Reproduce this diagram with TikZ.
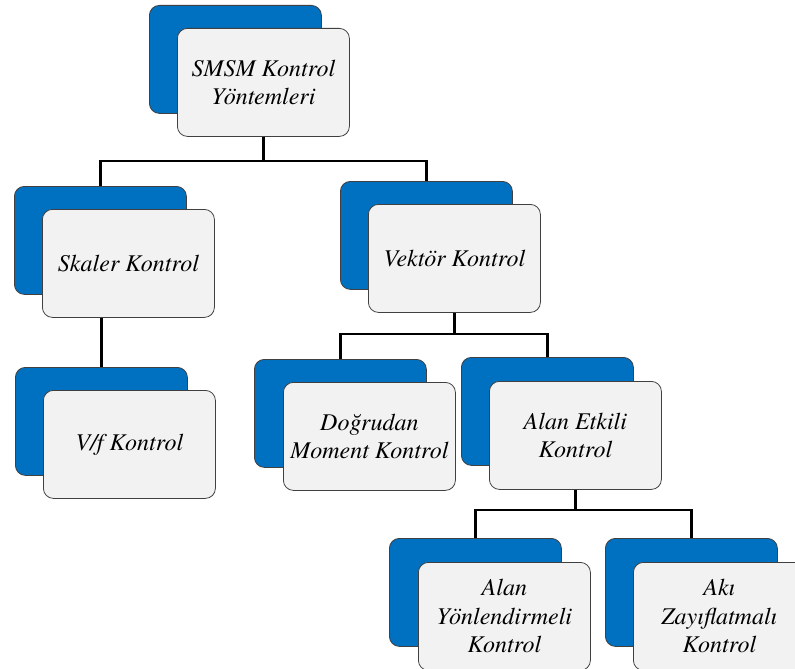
\documentclass[tikz,border=0pt]{standalone}
\usepackage{fontspec}
\setmainfont{TeX Gyre Termes}
\definecolor{bluebox}{RGB}{0,112,192}
\definecolor{greybox}{RGB}{242,242,242}
\definecolor{edgegrey}{RGB}{64,64,64}
\tikzset{
  backbox/.style={draw=edgegrey, line width=0.8pt, fill=bluebox, rounded corners=10pt,
    minimum width=172pt, minimum height=108pt, anchor=north west, inner sep=0pt},
  frontbox/.style={draw=edgegrey, line width=0.8pt, fill=greybox, rounded corners=10pt,
    minimum width=172pt, minimum height=108pt, anchor=north west, inner sep=0pt,
    align=center, font=\fontsize{24}{28.5}\selectfont\itshape},
  link/.style={draw=black, line width=2.6pt}
}
\begin{document}
\begin{tikzpicture}[x=1pt,y=-1pt]
\useasboundingbox (0,0) rectangle (795,669);

\coordinate (bus1) at (263,161);
\coordinate (bus2) at (454,334);
\coordinate (bus3) at (575,510);

\node[backbox] (topB) at (149,5) {};
\node[frontbox] (topG) at (177,28) {SMSM Kontrol\\Yöntemleri};

\node[backbox] (skB) at (14,186) {};
\node[frontbox] (skG) at (42,209) {Skaler Kontrol};

\node[backbox] (vfB) at (15,367) {};
\node[frontbox] (vfG) at (43,390) {V/f Kontrol};

\node[backbox] (vkB) at (340,181) {};
\node[frontbox] (vkG) at (368,204) {Vektör Kontrol};

\node[backbox] (dmB) at (254,359) {};
\node[frontbox] (dmG) at (283,382) {Doğrudan\\Moment Kontrol};

\node[backbox] (aeB) at (461,357) {};
\node[frontbox] (aeG) at (489,381) {Alan Etkili\\Kontrol};

\node[backbox] (ayB) at (389,538) {};
\node[frontbox] (ayG) at (418,562) {Alan\\Yönlendirmeli\\Kontrol};

\node[backbox] (azB) at (605,538) {};
\node[frontbox] (azG) at (633,562) {Akı\\Zayıflatmalı\\Kontrol};

\draw[link] (topG.south) -- (topG.south |- bus1);
\draw[link] (skB.north) |- (bus1) -| (vkB.north);

\draw[link] (skG.south -| vfB.north) -- (vfB.north);

\draw[link] (vkG.south) -- (vkG.south |- bus2);
\draw[link] (dmB.north) |- (bus2) -| (aeB.north);

\draw[link] (aeG.south) -- (aeG.south |- bus3);
\draw[link] (ayB.north) |- (bus3) -| (azB.north);
\end{tikzpicture}
\end{document}
